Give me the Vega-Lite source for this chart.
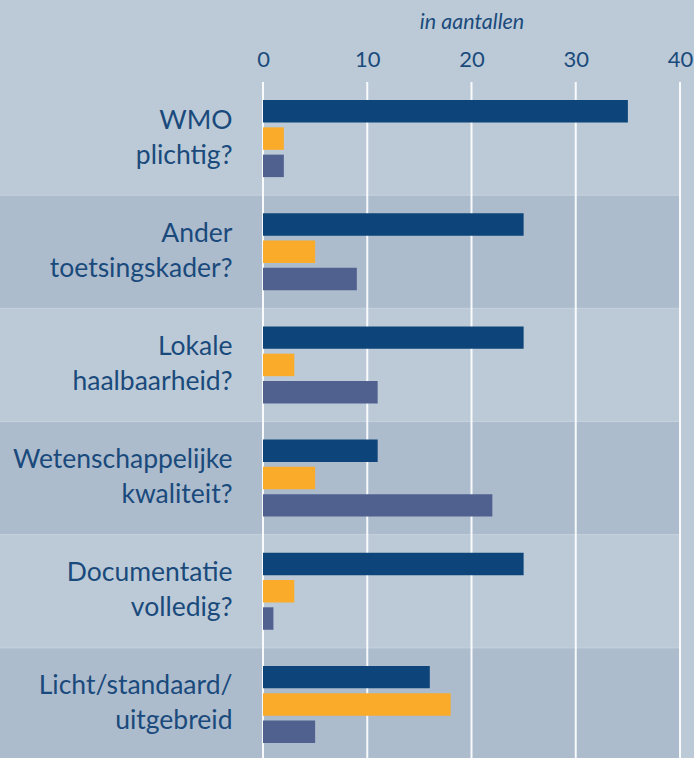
{
  "$schema": "https://vega.github.io/schema/vega-lite/v6.json",
  "width": 417,
  "height": 679,
  "autosize": "none",
  "padding": {"left": 263, "top": 82, "right": 14, "bottom": 0},
  "background": "#bccad7",
  "config": {"view": {"stroke": null}, "font": "Lato"},
  "datasets": {
    "bars": [
      {"vraag": "WMO plichtig?", "serie": "serie 1", "aantal": 35},
      {"vraag": "WMO plichtig?", "serie": "serie 2", "aantal": 2},
      {"vraag": "WMO plichtig?", "serie": "serie 3", "aantal": 2},
      {"vraag": "Ander toetsingskader?", "serie": "serie 1", "aantal": 25},
      {"vraag": "Ander toetsingskader?", "serie": "serie 2", "aantal": 5},
      {"vraag": "Ander toetsingskader?", "serie": "serie 3", "aantal": 9},
      {"vraag": "Lokale haalbaarheid?", "serie": "serie 1", "aantal": 25},
      {"vraag": "Lokale haalbaarheid?", "serie": "serie 2", "aantal": 3},
      {"vraag": "Lokale haalbaarheid?", "serie": "serie 3", "aantal": 11},
      {"vraag": "Wetenschappelijke kwaliteit?", "serie": "serie 1", "aantal": 11},
      {"vraag": "Wetenschappelijke kwaliteit?", "serie": "serie 2", "aantal": 5},
      {"vraag": "Wetenschappelijke kwaliteit?", "serie": "serie 3", "aantal": 22},
      {"vraag": "Documentatie volledig?", "serie": "serie 1", "aantal": 25},
      {"vraag": "Documentatie volledig?", "serie": "serie 2", "aantal": 3},
      {"vraag": "Documentatie volledig?", "serie": "serie 3", "aantal": 1},
      {"vraag": "Licht/standaard/ uitgebreid", "serie": "serie 1", "aantal": 16},
      {"vraag": "Licht/standaard/ uitgebreid", "serie": "serie 2", "aantal": 18},
      {"vraag": "Licht/standaard/ uitgebreid", "serie": "serie 3", "aantal": 5}
    ],
    "banden": [
      {"vraag": "Ander toetsingskader?"},
      {"vraag": "Wetenschappelijke kwaliteit?"},
      {"vraag": "Licht/standaard/ uitgebreid"}
    ],
    "raster": [{"x": 0}, {"x": 10}, {"x": 20}, {"x": 30}, {"x": 40}]
  },
  "encoding": {
    "y": {
      "field": "vraag",
      "type": "nominal",
      "scale": {
        "domain": ["WMO plichtig?", "Ander toetsingskader?", "Lokale haalbaarheid?", "Wetenschappelijke kwaliteit?", "Documentatie volledig?", "Licht/standaard/ uitgebreid"],
        "paddingInner": 0,
        "paddingOuter": 0
      },
      "axis": {
        "title": null,
        "domain": false,
        "ticks": false,
        "labelExpr": "split(datum.label, ' ')",
        "labelFont": "Lato",
        "labelFontSize": 26.5,
        "labelLineHeight": 35,
        "labelColor": "#1a4a7c",
        "labelPadding": 31,
        "labelOffset": -18,
        "labelLimit": 400
      }
    }
  },
  "layer": [
    {
      "data": {"name": "banden"},
      "mark": {"type": "rect", "color": "#adbccd", "stroke": "#c6d2dd", "strokeWidth": 1},
      "encoding": {
        "x": {"datum": -25.3, "type": "quantitative"},
        "x2": {"datum": 40}
      }
    },
    {
      "data": {"name": "raster"},
      "mark": {"type": "rule", "color": "#ffffff", "strokeWidth": 2, "opacity": 0.9},
      "encoding": {
        "x": {"field": "x", "type": "quantitative"},
        "y": null
      }
    },
    {
      "data": {"name": "bars"},
      "mark": {"type": "bar"},
      "encoding": {
        "yOffset": {
          "field": "serie",
          "type": "nominal",
          "scale": {"paddingInner": 0.176, "paddingOuter": 0.662}
        },
        "x": {
          "field": "aantal",
          "type": "quantitative",
          "scale": {"domain": [0, 40], "nice": false},
          "axis": {
            "orient": "top",
            "values": [0, 10, 20, 30, 40],
            "grid": false,
            "domain": false,
            "tickColor": "#ffffff",
            "tickSize": 0,
            "labelFlush": false,
            "labelFont": "Lato",
            "labelFontSize": 22,
            "labelColor": "#1a4a7c",
            "labelPadding": 11,
            "title": "in aantallen",
            "titleFont": "Lato",
            "titleFontStyle": "italic",
            "titleFontWeight": "normal",
            "titleFontSize": 21.5,
            "titleColor": "#1a4a7c",
            "titlePadding": 15
          }
        },
        "color": {
          "field": "serie",
          "type": "nominal",
          "scale": {"range": ["#0d4479", "#f9ab29", "#506190"]},
          "legend": null
        }
      }
    }
  ]
}
